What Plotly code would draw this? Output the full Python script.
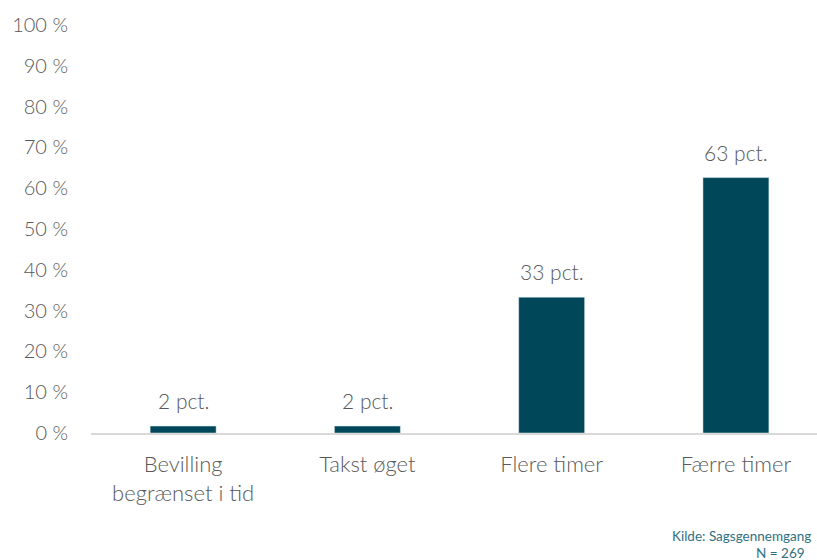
import plotly.graph_objects as go

categories = ["Bevilling<br>begrænset i tid", "Takst øget", "Flere timer", "Færre timer"]
values = [1.7, 1.7, 33.3, 62.6]
labels = ["2 pct.", "2 pct.", "33 pct.", "63 pct."]
yticks = list(range(0, 101, 10))
ytick_text = [f"{v} %" for v in yticks]

bar_color = "#00475a"
text_color = "#595959"
font_family = "Lato, Open Sans, sans-serif"
fw = 300

fig = go.Figure()
fig.add_trace(go.Bar(x=categories, y=values, marker_color=bar_color, hoverinfo="skip"))

for c, v, t in zip(categories, values, labels):
    fig.add_annotation(x=c, y=v, text=t, showarrow=False, yanchor="bottom", yshift=11,
                       font=dict(size=21, color=text_color, family=font_family, weight=fw))

fig.add_annotation(xref="paper", yref="paper", x=1, y=-0.2525, xanchor="right", yanchor="middle",
                   text="Kilde: Sagsgennemgang", showarrow=False, xshift=-4,
                   font=dict(size=13.5, color="#31707f", family=font_family))
fig.add_annotation(xref="paper", yref="paper", x=1, y=-0.294, xanchor="right", yanchor="middle",
                   text="N = 269", showarrow=False, xshift=-10,
                   font=dict(size=13.5, color="#31707f", family=font_family))

fig.update_layout(
    width=817, height=560,
    margin=dict(l=91, r=0, t=25, b=127),
    paper_bgcolor="white", plot_bgcolor="white",
    bargap=0.642,
    showlegend=False,
    font=dict(family=font_family, color=text_color, size=20),
)
fig.update_xaxes(range=[-0.5, 3.44], showline=True, linecolor="#d9d9d9", linewidth=2,
                 ticks="", showgrid=False, ticklabelstandoff=11,
                 tickfont=dict(size=22, color=text_color, weight=fw))
fig.update_yaxes(range=[0, 100], tickvals=yticks, ticktext=ytick_text, showgrid=False,
                 zeroline=False, showline=False, ticks="", ticklabelstandoff=22,
                 tickfont=dict(size=20, color=text_color, weight=fw))

fig.write_html("out.html", config={"displayModeBar": False},
               post_script="document.body.style.margin='0';document.body.style.overflow='hidden';")
